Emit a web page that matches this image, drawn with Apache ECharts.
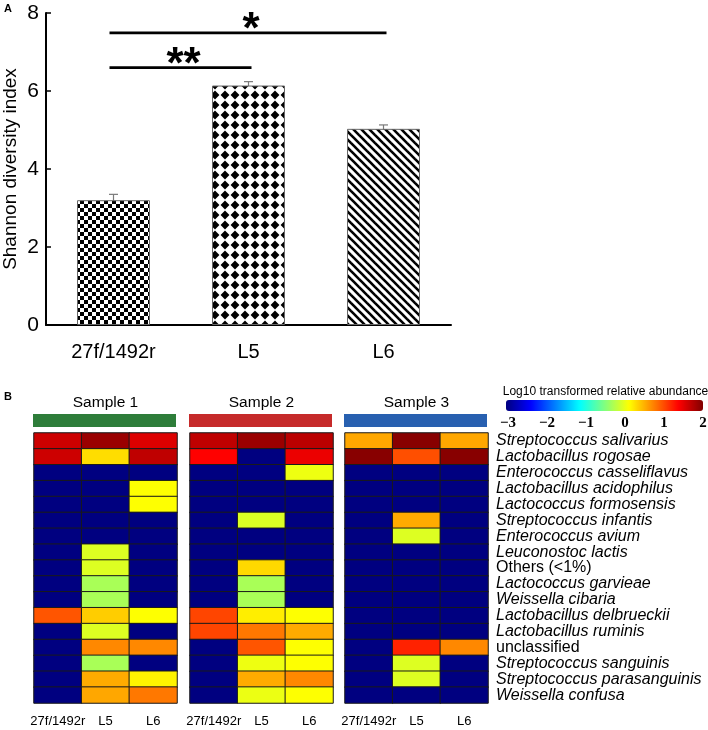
<!DOCTYPE html>
<html><head><meta charset="utf-8">
<script src="https://cdn.jsdelivr.net/npm/echarts@6/dist/echarts.min.js"></script>
<style>html,body{margin:0;padding:0;background:#fff}#c{width:708px;height:730px}</style>
</head><body><div id="c"></div>
<script>
// ---- Panel A data ----
const barCategories = ['27f/1492r', 'L5', 'L6'];
const shannonMean = [3.2, 6.14, 5.03];
const shannonErr = [0.15, 0.1, 0.1];
const sigComparisons = [[0, 1, 6.6, '**'], [0, 2, 7.49, '*']];

// ---- Panel B data ----
const species = ['Streptococcus salivarius', 'Lactobacillus rogosae', 'Enterococcus casseliflavus',
  'Lactobacillus acidophilus', 'Lactococcus formosensis', 'Streptococcus infantis', 'Enterococcus avium',
  'Leuconostoc lactis', 'Others (<1%)', 'Lactococcus garvieae', 'Weissella cibaria',
  'Lactobacillus delbrueckii', 'Lactobacillus ruminis', 'unclassified', 'Streptococcus sanguinis',
  'Streptococcus parasanguinis', 'Weissella confusa'];
const nonItalicNames = ['Others (<1%)', 'unclassified'];
const sampleNames = ['Sample 1', 'Sample 2', 'Sample 3'];
const primerLabels = ['27f/1492r', 'L5', 'L6'];
// rows = species, columns = primerLabels (log10 relative abundance)
const sample1 = [
  [1.62, 1.87, 1.54], [1.62, 0.29, 1.69], [-3, -3, -3], [-3, -3, 0.12], [-3, -3, 0.12],
  [-3, -3, -3], [-3, -3, -3], [-3, -0.04, -3], [-3, -0.04, -3], [-3, -0.3, -3], [-3, -0.3, -3],
  [0.96, 0.37, 0.12], [-3, -0.04, -3], [-3, 0.71, 0.71], [-3, -0.3, -3], [-3, 0.54, 0.18], [-3, 0.56, 0.79]
];
const sample2 = [
  [1.69, 1.87, 1.71], [1.37, -3, 1.47], [-3, -3, 0.04], [-3, -3, -3], [-3, -3, -3],
  [-3, -0.05, -3], [-3, -3, -3], [-3, -3, -3], [-3, 0.31, -3], [-3, -0.3, -3], [-3, -0.3, -3],
  [1.04, 0.21, 0.12], [1.04, 0.79, 0.54], [-3, 0.96, 0.12], [-3, 0.04, 0.12], [-3, 0.54, 0.71], [-3, 0.03, 0.12]
];
const sample3 = [
  [0.56, 1.96, 0.56], [1.96, 0.99, 1.96], [-3, -3, -3], [-3, -3, -3], [-3, -3, -3],
  [-3, 0.54, -3], [-3, -0.04, -3], [-3, -3, -3], [-3, -3, -3], [-3, -3, -3], [-3, -3, -3],
  [-3, -3, -3], [-3, -3, -3], [-3, 1.21, 0.71], [-3, -0.04, -3], [-3, -0.04, -3], [-3, -3, -3]
];
const samples = [sample1, sample2, sample3];
const colorbarMin = -3, colorbarMax = 2;

// ---- patterns ----
function makeCanvas(w, h, draw) {
  const c = document.createElement('canvas'); c.width = w; c.height = h;
  const ctx = c.getContext('2d'); ctx.fillStyle = '#fff'; ctx.fillRect(0, 0, w, h);
  ctx.fillStyle = '#000'; ctx.strokeStyle = '#000'; draw(ctx); return c;
}
const checker = makeCanvas(8, 8, ctx => { ctx.fillRect(0, 0, 4, 4); ctx.fillRect(4, 4, 4, 4); });
const diamonds = makeCanvas(10, 10, ctx => {
  ctx.beginPath(); ctx.moveTo(5, 0.6); ctx.lineTo(9.4, 5); ctx.lineTo(5, 9.4); ctx.lineTo(0.6, 5); ctx.closePath(); ctx.fill();
});
const stripes = makeCanvas(8, 8, ctx => {
  ctx.lineWidth = 2.6;
  for (const k of [-8, 0, 8]) { ctx.beginPath(); ctx.moveTo(k - 2, -2); ctx.lineTo(k + 10, 10); ctx.stroke(); }
});
const patterns = [checker, diamonds, stripes];

const FONT = 'Liberation Sans, Arial, sans-serif';
const jet = ['#000080', '#0000ff', '#0080ff', '#00ffff', '#80ff80', '#ffff00', '#ff8000', '#ff0000', '#800000'];

const hmGrids = [34, 190, 345];
const grids = [{ left: 46, top: 13, width: 405, height: 312, outerBoundsMode: 'none', containLabel: false }];
hmGrids.forEach(l => grids.push({ left: l, top: 433, width: 143, height: 270, outerBoundsMode: 'none', containLabel: false }));
grids.push({ left: 508, top: 400, width: 195, height: 11, outerBoundsMode: 'none', containLabel: false });

const xAxes = [{
  gridIndex: 0, type: 'category', data: barCategories,
  axisLine: { lineStyle: { color: '#000', width: 2 } },
  axisTick: { inside: true, length: 5, lineStyle: { color: '#000', width: 1.5 } },
  axisLabel: { color: '#000', fontSize: 20, fontFamily: FONT, margin: 17, interval: 0 }
}];
const yAxes = [{
  gridIndex: 0, type: 'value', min: 0, max: 8, interval: 2,
  axisLine: { show: true, lineStyle: { color: '#000', width: 2 } },
  axisTick: { show: true, inside: true, length: 5, lineStyle: { color: '#000', width: 1.5 } },
  splitLine: { show: false },
  axisLabel: { color: '#000', fontSize: 21, fontFamily: FONT, margin: 7 },
  name: 'Shannon diversity index', nameLocation: 'middle', nameGap: 26, nameMoveOverlap: false,
  nameTextStyle: { color: '#000', fontSize: 19, fontFamily: FONT }
}];
const series = [{
  type: 'bar', xAxisIndex: 0, yAxisIndex: 0, barWidth: 73,
  data: shannonMean.map((v, i) => ({ value: v, itemStyle: { color: { image: patterns[i], repeat: 'repeat' }, borderColor: '#666', borderWidth: 1 } })),
  emphasis: { disabled: true }, silent: true
}, {
  type: 'custom', xAxisIndex: 0, yAxisIndex: 0, silent: true,
  data: shannonMean.map((v, i) => [i, v, shannonErr[i]]),
  encode: { x: 0, y: 1 },
  renderItem: (params, api) => {
    const x = api.value(0), m = api.value(1), e = api.value(2);
    const t = api.coord([x, m + e]), b = api.coord([x, m - e]);
    const cx = t[0], hw = 4.5, st = { stroke: '#7a7a7a', lineWidth: 1.2 };
    return { type: 'group', children: [
      { type: 'line', shape: { x1: cx, y1: t[1], x2: cx, y2: b[1] }, style: st },
      { type: 'line', shape: { x1: cx - hw, y1: t[1], x2: cx + hw, y2: t[1] }, style: st },
      { type: 'line', shape: { x1: cx - hw, y1: b[1], x2: cx + hw, y2: b[1] }, style: st }
    ] };
  }
}, {
  type: 'custom', xAxisIndex: 0, yAxisIndex: 0, silent: true,
  data: sigComparisons.map(s => [s[0], s[1], s[2]]),
  encode: { x: [0, 1], y: 2 },
  renderItem: (params, api) => {
    const p1 = api.coord([api.value(0), api.value(2)]), p2 = api.coord([api.value(1), api.value(2)]);
    const x1 = p1[0] - 4, x2 = p2[0] + 3, y = p1[1];
    return { type: 'group', children: [
      { type: 'line', shape: { x1: x1, y1: y, x2: x2, y2: y }, style: { stroke: '#000', lineWidth: 2.6 } },
      { type: 'text', x: (x1 + x2) / 2 + 3, y: y - 2, style: { text: sigComparisons[params.dataIndex][3], fill: '#000', font: 'bold 44px ' + FONT, align: 'center', verticalAlign: 'middle' } }
    ] };
  }
}];

samples.forEach((s, k) => {
  const gi = k + 1;
  xAxes.push({
    gridIndex: gi, type: 'category', data: primerLabels,
    axisLine: { show: false }, axisTick: { show: false },
    axisLabel: { color: '#000', fontSize: 13, fontFamily: FONT, margin: 12, interval: 0 }
  });
  yAxes.push({
    gridIndex: gi, type: 'category', data: species, inverse: true,
    position: k === 2 ? 'right' : 'left',
    axisLine: { show: false }, axisTick: { show: false },
    axisLabel: {
      show: k === 2, interval: 0, margin: 8, color: '#000', fontSize: 16, fontFamily: FONT,
      formatter: v => nonItalicNames.includes(v) ? '{n|' + v + '}' : '{i|' + v + '}',
      rich: { i: { fontStyle: 'italic', fontSize: 16, fontFamily: FONT, color: '#000' }, n: { fontSize: 16, fontFamily: FONT, color: '#000' } }
    }
  });
  const data = [];
  s.forEach((row, r) => row.forEach((v, c) => data.push([c, r, v])));
  series.push({
    type: 'heatmap', xAxisIndex: gi, yAxisIndex: gi, data: data, silent: true,
    itemStyle: { borderColor: '#1a1a1a', borderWidth: 1 }, emphasis: { disabled: true }
  });
});
xAxes.push({
  gridIndex: 4, type: 'value', min: colorbarMin, max: colorbarMax, interval: 1,
  axisLine: { show: false }, axisTick: { show: false }, splitLine: { show: false },
  axisLabel: { color: '#000', fontSize: 15, fontWeight: 'bold', fontFamily: 'Liberation Serif, Times New Roman, serif', margin: 5,
    formatter: v => v < 0 ? '\u2212' + (-v) : String(v) }
});
yAxes.push({ gridIndex: 4, type: 'value', show: false, min: 0, max: 1 });
series.push({ type: 'scatter', xAxisIndex: 4, yAxisIndex: 4, data: [], silent: true });

const graphics = [
  { type: 'text', left: 4, top: 3, style: { text: 'A', font: 'bold 11px ' + FONT, fill: '#000' } },
  { type: 'text', left: 4, top: 391, style: { text: 'B', font: 'bold 11px ' + FONT, fill: '#000' } },
  { type: 'text', x: 605.5, y: 392, style: { text: 'Log10 transformed relative abundance', font: '12px ' + FONT, fill: '#000', align: 'center', verticalAlign: 'middle' } }
];
const sampleColors = ['#2e7d3a', '#c62a2a', '#2860b0'];
sampleNames.forEach((n, k) => {
  graphics.push({ type: 'text', x: hmGrids[k] + 71.5, y: 403, style: { text: n, font: '15.5px ' + FONT, fill: '#000', align: 'center', verticalAlign: 'middle' } });
  graphics.push({ type: 'rect', shape: { x: hmGrids[k] - 1, y: 414, width: 143, height: 13 }, style: { fill: sampleColors[k] } });
});

const chart = echarts.init(document.getElementById('c'), null, { renderer: 'canvas' });
chart.setOption({
  animation: false,
  backgroundColor: '#fff',
  grid: grids, xAxis: xAxes, yAxis: yAxes, series: series,
  visualMap: {
    type: 'continuous', min: colorbarMin, max: colorbarMax, seriesIndex: [3, 4, 5],
    calculable: false, orient: 'horizontal', left: 506, top: 400, itemWidth: 11, itemHeight: 197,
    padding: 0, inRange: { color: jet }, hoverLink: false
  },
  graphic: graphics
});
</script></body></html>
